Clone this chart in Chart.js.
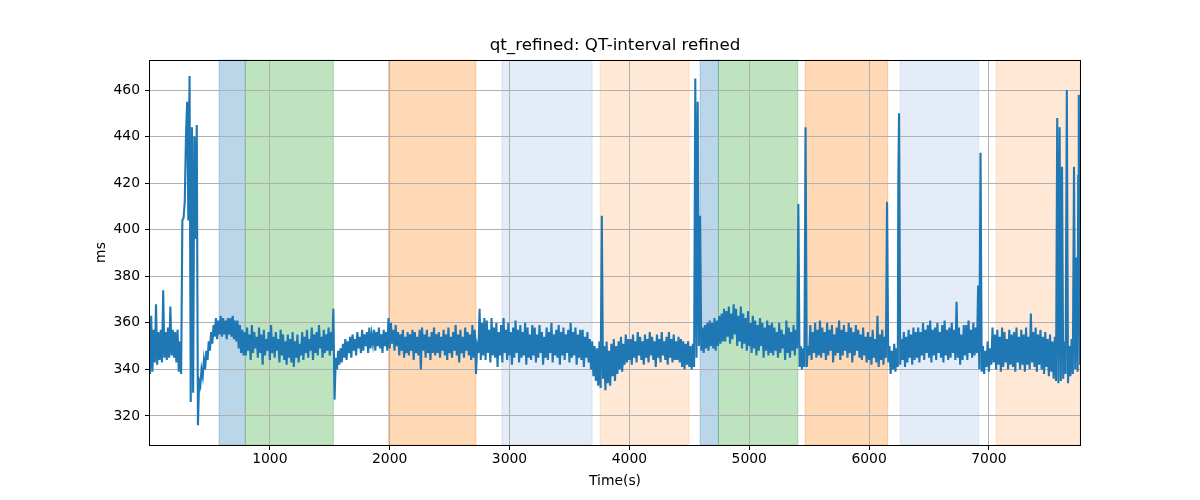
<!DOCTYPE html>
<html>
<head>
<meta charset="utf-8">
<script src="https://cdn.jsdelivr.net/npm/chart.js@4"></script>
<style>
  html, body { margin: 0; padding: 0; background: #fff; }
</style>
</head>
<body>
<canvas id="qt-chart" width="1200" height="500"></canvas>
<script>
const chartTitle = 'qt_refined: QT-interval refined';
const xLabel = 'Time(s)';
const yLabel = 'ms';

const binWidth = 20;
const qtLow = [
  338,339,343,342,344,343,345,344,345,346,345,343,339,338,405,440,404,326,330,396,
  316,333,337,340,344,348,351,354,353,355,354,355,353,355,354,353,352,349,347,346,
  346,348,344,347,349,345,347,342,346,348,344,347,345,348,343,346,344,342,345,343,
  341,345,343,346,344,347,345,348,344,347,346,349,345,347,348,346,348,327,340,342,
  343,345,344,347,345,348,346,349,347,348,350,347,349,351,348,350,349,347,350,348,
  349,351,348,350,346,348,345,347,346,348,344,347,346,340,348,345,347,344,347,346,
  347,345,348,346,344,347,345,348,346,343,347,345,348,346,344,345,338,347,344,346,
  344,347,343,346,345,341,346,343,347,344,346,342,345,347,343,345,346,342,345,344,
  346,343,345,347,342,345,344,347,343,346,345,342,346,344,347,343,345,346,342,345,
  344,341,345,343,340,337,335,333,332,336,331,334,333,337,335,338,340,339,342,343,
  344,342,345,343,346,344,342,345,343,346,344,341,345,343,346,344,342,345,343,344,
  344,343,341,340,342,341,340,341,345,350,348,347,349,348,350,349,348,350,351,352,
  352,354,351,353,355,350,352,349,351,348,350,347,349,346,348,350,345,348,346,347,
  346,348,345,347,349,344,347,345,348,346,349,341,340,341,341,346,344,347,345,346,
  345,347,344,346,348,343,346,347,344,346,348,345,347,343,346,348,345,344,346,343,
  344,342,345,343,341,344,342,345,343,338,340,339,341,342,344,341,343,345,342,344,
  345,343,346,344,347,345,343,346,344,347,345,343,346,344,345,347,344,345,342,344,
  346,344,347,345,346,347,340,339,338,341,339,342,343,340,342,339,341,343,340,342,
  341,339,343,340,342,339,342,340,343,341,339,342,340,338,341,337,339,336,335,334,
  335,336,338,334,337,338,340,339,342
];
const qtHigh = [
  363,357,368,356,357,374,356,358,367,357,356,357,352,404,412,455,466,444,440,445,
  335,340,344,348,352,356,359,362,361,363,362,361,362,362,363,361,361,359,357,356,
  358,355,359,356,354,358,355,357,353,356,359,354,356,353,357,355,352,355,353,356,
  352,355,351,356,354,357,353,358,355,356,359,354,357,355,358,356,366,345,348,349,
  351,353,352,354,355,353,356,354,357,355,356,358,355,357,356,358,355,357,356,362,
  360,357,359,356,355,357,354,356,355,357,356,354,357,358,355,357,354,356,358,355,
  356,354,357,355,358,354,356,359,355,357,354,358,356,355,359,357,350,366,360,362,
  361,357,362,358,360,356,359,362,357,360,356,358,361,357,359,356,360,358,355,359,
  358,355,359,356,354,358,356,360,355,357,359,356,358,355,357,360,356,358,355,357,
  357,354,356,353,352,350,349,352,406,350,352,348,351,353,350,352,354,351,355,353,
  353,355,352,356,354,352,355,353,356,354,352,355,353,356,352,354,356,353,355,352,
  354,353,352,351,352,350,351,465,455,406,358,359,360,361,360,362,361,363,364,366,
  365,367,364,368,366,363,367,364,362,365,360,363,361,359,362,360,358,361,359,360,
  358,356,360,357,355,361,358,356,359,357,411,350,349,444,350,359,356,360,357,361,
  358,356,360,357,359,355,358,361,357,359,356,360,358,356,359,357,355,358,354,356,
  354,357,353,363,355,357,354,412,350,348,351,349,450,353,356,354,357,355,358,356,
  358,356,360,357,359,361,357,358,360,356,359,361,357,358,360,357,369,358,355,359,
  359,361,357,360,358,376,433,350,348,352,349,358,355,357,354,358,356,353,357,355,
  356,358,354,357,355,358,354,364,356,358,355,357,354,356,353,355,352,354,448,444,
  427,352,460,350,353,427,388,458,350
];

// a couple of extra spike samples inside a bin
const spikeTimes  = [6244, 7745];
const spikeValues = [421, 423];

// shaded segments
const spanStart = [576, 795, 1989, 2937, 3755, 4590, 4743, 5466, 6259, 7060];
const spanEnd   = [795, 1530, 2720, 3689, 4498, 4743, 5405, 6156, 6915, 7760];
const spanKind  = ['blue', 'green', 'orange', 'lightblue', 'lightorange', 'blue', 'green', 'orange', 'lightblue', 'lightorange'];

const xTicks = [1000, 2000, 3000, 4000, 5000, 6000, 7000];
const yTicks = [320, 340, 360, 380, 400, 420, 440, 460];

const spanColors = {
  blue: 'rgba(31,119,180,0.3)',
  green: 'rgba(44,160,44,0.3)',
  orange: 'rgba(255,127,14,0.3)',
  lightblue: 'rgba(120,160,215,0.2)',
  lightorange: 'rgba(255,127,14,0.17)'
};

let points = [];
qtLow.forEach((lo, i) => {
  points.push({ x: i * binWidth, y: lo });
  points.push({ x: i * binWidth + binWidth / 2, y: qtHigh[i] });
});
spikeTimes.forEach((t, i) => points.push({ x: t, y: spikeValues[i] }));
points.sort((a, b) => a.x - b.x);

const font = '"DejaVu Sans", sans-serif';

const decorPlugin = {
  id: 'decor',
  beforeDraw(chart) {
    const ctx = chart.ctx;
    const area = chart.chartArea;
    const xs = chart.scales.x;
    ctx.save();
    spanStart.forEach((s, i) => {
      const x0 = xs.getPixelForValue(s);
      const x1 = Math.min(xs.getPixelForValue(spanEnd[i]), area.right);
      ctx.fillStyle = spanColors[spanKind[i]];
      ctx.fillRect(x0, area.top, x1 - x0, area.bottom - area.top);
      ctx.strokeStyle = spanColors[spanKind[i]];
      ctx.lineWidth = 1;
      ctx.strokeRect(x0, area.top, x1 - x0, area.bottom - area.top);
    });
    ctx.restore();
  },
  afterDraw(chart) {
    const ctx = chart.ctx;
    const area = chart.chartArea;
    ctx.save();
    ctx.strokeStyle = '#000';
    ctx.lineWidth = 1;
    ctx.strokeRect(area.left - 0.5, area.top + 0.5, area.right - area.left + 1, area.bottom - area.top);
    ctx.fillStyle = '#000';
    ctx.textAlign = 'center';
    ctx.textBaseline = 'middle';
    ctx.font = '16.7px ' + font;
    ctx.fillText(chartTitle, (area.left + area.right) / 2, 46);
    ctx.font = '13.9px ' + font;
    ctx.fillText(xLabel, (area.left + area.right) / 2, 481);
    ctx.translate(101, (area.top + area.bottom) / 2);
    ctx.rotate(-Math.PI / 2);
    ctx.fillText(yLabel, 0, 0);
    ctx.restore();
  }
};

const gridOpts = { color: '#b0b0b0', lineWidth: 1, tickColor: '#000', tickLength: 5 };

new Chart(document.getElementById('qt-chart'), {
  type: 'line',
  data: {
    datasets: [{
      data: points,
      borderColor: '#1f77b4',
      borderWidth: 2.1,
      pointRadius: 0,
      tension: 0,
      fill: false
    }]
  },
  options: {
    responsive: false,
    animation: false,
    events: [],
    layout: { padding: { left: 0, right: 120, top: 60, bottom: 0 } },
    plugins: { legend: { display: false }, tooltip: { enabled: false }, title: { display: false } },
    scales: {
      x: {
        type: 'linear',
        min: 0,
        max: 7760,
        afterBuildTicks: s => { s.ticks = xTicks.map(v => ({ value: v })); },
        afterFit: s => { s.height = 55; },
        grid: gridOpts,
        border: { display: false },
        ticks: { color: '#000', font: { family: font, size: 13.9 }, padding: 1, maxRotation: 0, callback: v => String(v) }
      },
      y: {
        min: 307.5,
        max: 472.9,
        afterBuildTicks: s => { s.ticks = yTicks.map(v => ({ value: v })); },
        afterFit: s => { s.width = 150; },
        grid: gridOpts,
        border: { display: false },
        ticks: { color: '#000', font: { family: font, size: 13.9 }, padding: 5, callback: v => String(v) }
      }
    }
  },
  plugins: [decorPlugin]
});
</script>
</body>
</html>
